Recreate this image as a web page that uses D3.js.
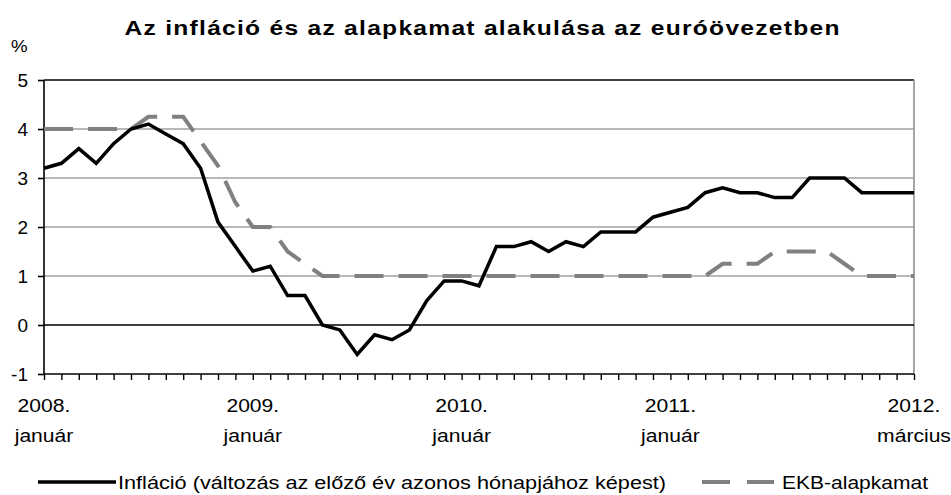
<!DOCTYPE html>
<html>

<head>
    <meta charset="UTF-8">
    <title>Infláció és alapkamat</title>
    <style>
        body {
            margin: 0;
            background: white;
        }

        svg text {
            font-family: "Liberation Sans", Arial, sans-serif;
            fill: black;
        }
    </style>
</head>

<body>
    <svg></svg>
    <script src="https://d3js.org/d3.v7.min.js"></script>
    <script>

        let width = 951, height = 495

        // monthly data, 2008 january - 2012 march
        let months = d3.range(51)
        let inflation = [
            3.2, 3.3, 3.6, 3.3, 3.7, 4.0, 4.1, 3.9, 3.7, 3.2, 2.1, 1.6,
            1.1, 1.2, 0.6, 0.6, 0.0, -0.1, -0.6, -0.2, -0.3, -0.1, 0.5, 0.9,
            0.9, 0.8, 1.6, 1.6, 1.7, 1.5, 1.7, 1.6, 1.9, 1.9, 1.9, 2.2,
            2.3, 2.4, 2.7, 2.8, 2.7, 2.7, 2.6, 2.6, 3.0, 3.0, 3.0, 2.7,
            2.7, 2.7, 2.7
        ]
        let ecbRate = [
            4.0, 4.0, 4.0, 4.0, 4.0, 4.0, 4.25, 4.25, 4.25, 3.75, 3.25, 2.5,
            2.0, 2.0, 1.5, 1.25, 1.0, 1.0, 1.0, 1.0, 1.0, 1.0, 1.0, 1.0,
            1.0, 1.0, 1.0, 1.0, 1.0, 1.0, 1.0, 1.0, 1.0, 1.0, 1.0, 1.0,
            1.0, 1.0, 1.0, 1.25, 1.25, 1.25, 1.5, 1.5, 1.5, 1.5, 1.25, 1.0,
            1.0, 1.0, 1.0
        ]
        let yTicks = [-1, 0, 1, 2, 3, 4, 5]
        let xLabels = [
            { i: 0, year: "2008.", month: "január" },
            { i: 12, year: "2009.", month: "január" },
            { i: 24, year: "2010.", month: "január" },
            { i: 36, year: "2011.", month: "január" },
            { i: 50, year: "2012.", month: "március" }
        ]
        let legendLabels = ["Infláció (változás az előző év azonos hónapjához képest)", "EKB-alapkamat"]

        let svg = d3.select("svg")
            .attr("width", width)
            .attr("height", height)

        let x = d3.scaleLinear()
            .domain([0, 50])
            .range([44, 914])

        let y = d3.scaleLinear()
            .domain([-1, 5])
            .range([374, 80])

        // the picture has slightly wide lettering
        function wideText(px, py, str, size, sx) {
            return svg.append("g")
                .attr("transform", "translate(" + px + "," + py + ") scale(" + sx + ",1)")
                .append("text")
                .style("font-size", size + "px")
                .text(str)
        }

        // title
        wideText(482, 35, "Az infláció és az alapkamat alakulása az euróövezetben", 20.5, 1.2)
            .attr("text-anchor", "middle")
            .style("font-weight", "bold")
            .attr("textLength", 715 / 1.2)
            .attr("lengthAdjust", "spacing")

        wideText(11, 52, "%", 17, 1.1)

        // grid lines
        svg.append("g")
            .selectAll("line")
            .data([1, 2, 3, 4])
            .enter()
            .append("line")
            .attr("x1", x(0))
            .attr("x2", x(50))
            .attr("y1", d => y(d))
            .attr("y2", d => y(d))
            .attr("stroke", "#a0a0a0")
            .attr("stroke-width", 1.6)

        // top and right border
        svg.append("line")
            .attr("x1", x(0)).attr("x2", x(50))
            .attr("y1", y(5)).attr("y2", y(5))
            .attr("stroke", "black")
            .attr("stroke-width", 1.6)
        svg.append("line")
            .attr("x1", x(50)).attr("x2", x(50))
            .attr("y1", y(5)).attr("y2", y(-1))
            .attr("stroke", "#909090")
            .attr("stroke-width", 1.6)

        // zero line
        svg.append("line")
            .attr("x1", x(0)).attr("x2", x(50))
            .attr("y1", y(0)).attr("y2", y(0))
            .attr("stroke", "black")
            .attr("stroke-width", 1.6)

        // y axis
        let yAxis = svg.append("g")
            .attr("transform", "translate(" + x(0) + ",0)")
            .call(d3.axisLeft(y).tickValues(yTicks).tickSize(6).tickPadding(10).tickFormat(d => String(d)))
        yAxis.selectAll("text")
            .style("font-size", "19px")
            .attr("dy", "0.35em")
        yAxis.selectAll("path, line")
            .attr("stroke", "black")
            .attr("stroke-width", 1.6)
        yAxis.select(".domain").attr("d", "M0," + y(5) + "V" + y(-1))

        // x axis
        let xAxis = svg.append("g")
            .attr("transform", "translate(0," + y(-1) + ")")
            .call(d3.axisBottom(x).tickValues(months).tickSize(6).tickFormat(""))
        xAxis.selectAll("path, line")
            .attr("stroke", "black")
            .attr("stroke-width", 1.4)
        xAxis.select(".domain").attr("d", "M" + x(0) + ",0H" + x(50))

        xLabels.forEach(d => {
            wideText(x(d.i), 412, d.year, 18.5, 1.14).attr("text-anchor", "middle")
            wideText(x(d.i), 442, d.month, 18.5, 1.14).attr("text-anchor", "middle")
        })

        // lines
        let line = d3.line()
            .x((d, i) => x(i))
            .y(d => y(d))

        svg.append("path")
            .datum(ecbRate)
            .attr("fill", "none")
            .attr("stroke", "#808080")
            .attr("stroke-width", 4)
            .attr("stroke-dasharray", "29,15")
            .attr("d", line)

        svg.append("path")
            .datum(inflation)
            .attr("fill", "none")
            .attr("stroke", "black")
            .attr("stroke-width", 3.5)
            .attr("d", line)

        // legend
        let legend = svg.append("g")
        legend.append("line")
            .attr("x1", 38).attr("x2", 116)
            .attr("y1", 482).attr("y2", 482)
            .attr("stroke", "black")
            .attr("stroke-width", 3.5)
        wideText(118, 489, legendLabels[0], 18.5, 1.15)
            .attr("textLength", 548 / 1.15)
            .attr("lengthAdjust", "spacingAndGlyphs")
        legend.append("line")
            .attr("x1", 702).attr("x2", 774)
            .attr("y1", 482).attr("y2", 482)
            .attr("stroke", "#808080")
            .attr("stroke-width", 4)
            .attr("stroke-dasharray", "28,17")
        wideText(782, 489, legendLabels[1], 18.5, 1.15)
            .attr("textLength", 146 / 1.15)
            .attr("lengthAdjust", "spacingAndGlyphs")

    </script>

</body>

</html>
